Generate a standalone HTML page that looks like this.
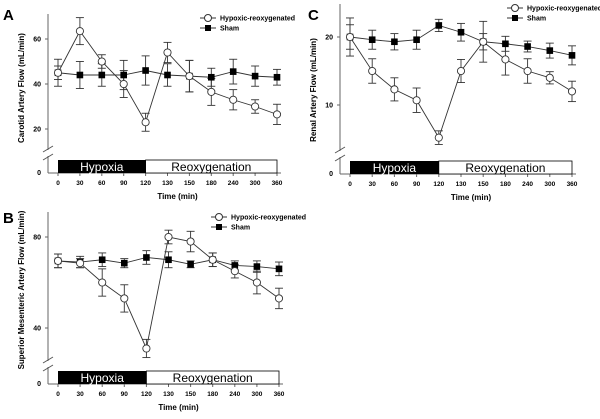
<!DOCTYPE html>
<html><head><meta charset="utf-8"><style>
html,body{margin:0;padding:0;background:#fff;width:600px;height:419px;overflow:hidden}
svg{display:block;font-family:"Liberation Sans",Arial,sans-serif}
</style></head><body>
<svg id="chart" width="600" height="419" viewBox="0 0 600 419"></svg>
<script>
const cats=["0","30","60","90","120","130","150","180","240","300","360"];
const aHyp=[45,63.5,50,40,23,54,43.5,36.5,33,30,26.5];
const aHypErr=[3,6,3,6,4,4.5,7,6,4.5,3,4.5];
const aSham=[45,44,44,44,46,44,43.5,43,45.5,43.5,43];
const aShamErr=[6,6,5,6.5,6.5,5,7,4,5.5,4.5,3.5];
const aTicks=[20,40,60];
const bHyp=[69.5,68.5,60,53,31,80,78,70,65,60,53];
const bHypErr=[3,2,6,6,4,3,4.5,3,3,5,4.5];
const bSham=[69.5,69,70,68.5,71,70,68,70,67.5,67,66];
const bShamErr=[3,2.5,3,2,3,3.5,1.5,3,2,2.5,3];
const bTicks=[40,80];
const cHyp=[20,15,12.3,10.7,5.2,15,19.3,16.7,15,14,12];
const cHypErr=[2.8,1.8,1.7,1.8,1,1.7,3,2.3,1.8,0.9,1.5];
const cSham=[20,19.6,19.3,19.6,21.7,20.7,19.3,19,18.6,18,17.3];
const cShamErr=[1.8,1.4,1.2,1.4,0.9,1.3,1.2,1.1,0.8,1.1,1.4];
const cTicks=[10,20];

const NS="http://www.w3.org/2000/svg";
const svg=document.getElementById('chart');
function mk(tag,attrs,parent,text){const e=document.createElementNS(NS,tag);for(const k in attrs)e.setAttribute(k,attrs[k]);if(text!==undefined)e.textContent=text;(parent||svg).appendChild(e);return e;}

function panel(p){
  const g=mk('g',{});
  
  
  const x=i=>p.x0+i*(p.x1-p.x0)/(cats.length-1);
  const y=v=>p.yRef-(v-p.vRef)*p.scale;
  const L=mk('text',{x:p.lx,y:p.ly,'font-size':15,'font-weight':'bold'},g,p.id);
  
  
  // y axis
  mk('line',{x1:p.ax,y1:p.top,x2:p.ax,y2:p.bottom-23,stroke:'#666','stroke-width':1},g);
  mk('line',{x1:p.ax,y1:p.bottom-17,x2:p.ax,y2:p.bottom,stroke:'#666','stroke-width':1},g);
  mk('line',{x1:p.ax-5,y1:p.bottom-21,x2:p.ax+5,y2:p.bottom-27,stroke:'#555','stroke-width':1},g);
  mk('line',{x1:p.ax-5,y1:p.bottom-13,x2:p.ax+5,y2:p.bottom-19,stroke:'#555','stroke-width':1},g);
  mk('line',{x1:p.ax,y1:p.bottom,x2:p.x1+4,y2:p.bottom,stroke:'#666','stroke-width':1},g);
  mk('text',{x:p.ax-7,y:p.bottom+2,'font-size':7,'font-weight':'bold','text-anchor':'end'},g,'0');
  p.ticks.forEach(t=>{
    mk('line',{x1:p.ax-3,y1:y(t),x2:p.ax,y2:y(t),stroke:'#666'},g);
    const tl=mk('text',{x:p.ax-7,y:y(t)+2.5,'font-size':7,'font-weight':'bold','text-anchor':'end'},g,String(t));
    
    
  });
  const yt=mk('text',{x:0,y:0,'font-size':8,'font-weight':'bold','text-anchor':'middle',transform:`translate(${p.ax-24},${p.ytitleY}) rotate(-90)`},g,p.ytitle);
  
  
  cats.forEach((c,i)=>{
    mk('line',{x1:x(i),y1:p.bottom,x2:x(i),y2:p.bottom+3,stroke:'#666'},g);
    const xl=mk('text',{x:x(i),y:p.bottom+12,'font-size':6.5,'font-weight':'bold','text-anchor':'middle'},g,c);
    
    
  });
  const xt=mk('text',{x:(p.x0+p.x1)/2+10,y:p.bottom+26,'font-size':8,'font-weight':'bold','text-anchor':'middle'},g,'Time (min)');
  
  
  // condition bar
  const hb=mk('rect',{x:x(0),y:p.bottom-13,width:x(4)-x(0),height:13,fill:'#000'},g);
  
  
  const rb=mk('rect',{x:x(4),y:p.bottom-13,width:x(10)-x(4),height:13,fill:'#fff',stroke:'#000','stroke-width':0.8},g);
  
  
  mk('text',{x:(x(0)+x(4))/2,y:p.bottom-2,'font-size':12,fill:'#fff','text-anchor':'middle'},g,'Hypoxia');
  mk('text',{x:(x(4)+x(10))/2,y:p.bottom-2,'font-size':12,fill:'#000','text-anchor':'middle'},g,'Reoxygenation');
  // series
  const series=[{v:p.sham,e:p.shamErr,open:false,name:'sham'},{v:p.hyp,e:p.hypErr,open:true,name:'hypoxic'}];
  series.forEach(s=>{
    s.v.forEach((v,i)=>{
      const e=s.e[i];
      mk('line',{x1:x(i),y1:y(v+e),x2:x(i),y2:y(v-e),stroke:'#333','stroke-width':0.9},g);
      mk('line',{x1:x(i)-4,y1:y(v+e),x2:x(i)+4,y2:y(v+e),stroke:'#333','stroke-width':0.9},g);
      mk('line',{x1:x(i)-4,y1:y(v-e),x2:x(i)+4,y2:y(v-e),stroke:'#333','stroke-width':0.9},g);
    });
    const pts=s.v.map((v,i)=>x(i)+','+y(v)).join(' ');
    const pl=mk('polyline',{points:pts,fill:'none',stroke:'#333','stroke-width':0.9},g);
    
    
  });
  series.forEach(s=>{
    s.v.forEach((v,i)=>{
      let m;
      if(s.open) m=mk('circle',{cx:x(i),cy:y(v),r:3.6,fill:'#fff',stroke:'#333','stroke-width':0.9},g);
      else m=mk('rect',{x:x(i)-3.3,y:y(v)-3.3,width:6.6,height:6.6,fill:'#000'},g);
      
      
    });
  });
  // legend
  const lg=mk('g',{},g);
  
  
  mk('line',{x1:p.legX,y1:p.legY,x2:p.legX+16,y2:p.legY,stroke:'#333'},lg);
  mk('circle',{cx:p.legX+8,cy:p.legY,r:3.5,fill:'#fff',stroke:'#333'},lg);
  mk('text',{x:p.legX+20,y:p.legY+2.5,'font-size':7,'font-weight':'bold'},lg,'Hypoxic-reoxygenated');
  mk('line',{x1:p.legX,y1:p.legY+10,x2:p.legX+16,y2:p.legY+10,stroke:'#333'},lg);
  mk('rect',{x:p.legX+5,y:p.legY+7,width:6,height:6,fill:'#000'},lg);
  mk('text',{x:p.legX+20,y:p.legY+12.5,'font-size':7,'font-weight':'bold'},lg,'Sham');
}
panel({id:'A',lx:3,ly:20,ax:48,top:14,bottom:173,x0:58,x1:277,yRef:129,vRef:20,scale:2.25,ticks:aTicks,
  ytitle:'Carotid Artery Flow (mL/min)',ytitleY:88,hyp:aHyp,hypErr:aHypErr,sham:aSham,shamErr:aShamErr,legX:200,legY:18});
panel({id:'B',lx:3,ly:223,ax:48,top:212,bottom:384,x0:58,x1:279,yRef:328,vRef:40,scale:91/40,ticks:bTicks,
  ytitle:'Superior Mesenteric Artery Flow (mL/min)',ytitleY:290,hyp:bHyp,hypErr:bHypErr,sham:bSham,shamErr:bShamErr,legX:211,legY:217});
panel({id:'C',lx:308,ly:20,ax:340,top:4,bottom:174,x0:350,x1:572,yRef:105,vRef:10,scale:6.8,ticks:cTicks,
  ytitle:'Renal Artery Flow (mL/min)',ytitleY:90,hyp:cHyp,hypErr:cHypErr,sham:cSham,shamErr:cShamErr,legX:507,legY:8});
</script>
</body></html>
